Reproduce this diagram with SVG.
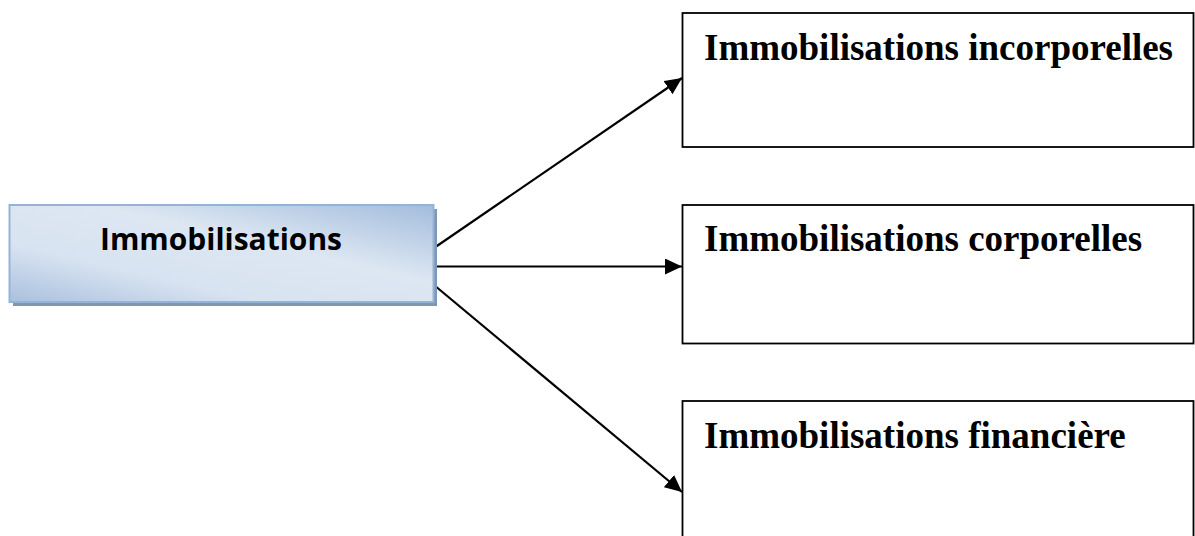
<svg xmlns="http://www.w3.org/2000/svg" width="1195" height="536" viewBox="0 0 1195 536">
  <style>
    .box { fill: #ffffff; stroke: #000000; stroke-width: 1.8; }
    .label { font-family: "Liberation Serif", "Times New Roman", serif; font-weight: bold; font-size: 37px; fill: #000000; }
    .main { font-family: "Open Sans", "Liberation Sans", Arial, sans-serif; font-weight: bold; font-size: 30px; fill: #000000; }
    .conn { stroke: #000000; stroke-width: 2.2; fill: none; }
  </style>
  <defs>
    <linearGradient id="blueGrad" x1="0" y1="1" x2="1" y2="0">
      <stop offset="0" stop-color="#a9c0de"/>
      <stop offset="0.3" stop-color="#d8e3f1"/>
      <stop offset="0.6" stop-color="#dde7f2"/>
      <stop offset="1" stop-color="#a3bcdc"/>
    </linearGradient>
    <marker id="arrow" markerWidth="17" markerHeight="16" refX="17" refY="8" orient="auto" markerUnits="userSpaceOnUse">
      <path d="M0,0 L17,8 L0,16 Z" fill="#000000"/>
    </marker>
  </defs>

  <g id="connectors">
    <line class="conn" x1="434" y1="248" x2="682" y2="78" marker-end="url(#arrow)"/>
    <line class="conn" x1="434" y1="266.5" x2="682" y2="266.5" marker-end="url(#arrow)"/>
    <line class="conn" x1="434" y1="285" x2="682" y2="492" marker-end="url(#arrow)"/>
  </g>

  <g id="node-immobilisations">
    <rect x="13" y="209" width="424" height="97" fill="#8096b3"/>
    <rect x="9.5" y="205" width="424" height="97" fill="url(#blueGrad)" stroke="#95b3d7" stroke-width="2"/>
    <text class="main" x="221" y="250" text-anchor="middle" textLength="242" lengthAdjust="spacingAndGlyphs">Immobilisations</text>
  </g>

  <g id="node-incorporelles">
    <rect class="box" x="682.5" y="13" width="511" height="134"/>
    <text class="label" x="704" y="60">Immobilisations incorporelles</text>
  </g>

  <g id="node-corporelles">
    <rect class="box" x="682.5" y="205" width="511" height="138.5"/>
    <text class="label" x="704" y="251">Immobilisations corporelles</text>
  </g>

  <g id="node-financiere">
    <rect class="box" x="682.5" y="401" width="511" height="140"/>
    <text class="label" x="704" y="448">Immobilisations financière</text>
  </g>
</svg>
